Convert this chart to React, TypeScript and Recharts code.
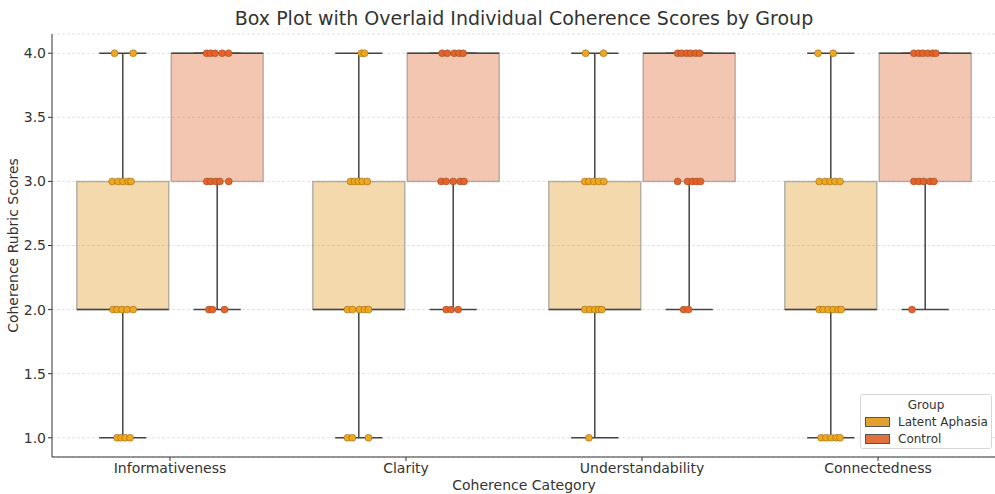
import React from 'react';
import {
  ComposedChart,
  XAxis,
  YAxis,
  CartesianGrid,
  Scatter,
  ReferenceArea,
  ReferenceLine,
} from 'recharts';

// ---------- data ----------
const categories = ['Informativeness', 'Clarity', 'Understandability', 'Connectedness'];
const yTicks = [1.0, 1.5, 2.0, 2.5, 3.0, 3.5, 4.0];
const groups = ['Latent Aphasia', 'Control'];

// box statistics per category
const laLow = [1, 1, 1, 1];
const laQ1 = [2, 2, 2, 2];
const laMedian = [2, 2, 2, 2];
const laQ3 = [3, 3, 3, 3];
const laHigh = [4, 4, 4, 4];

const ctLow = [2, 2, 2, 2];
const ctQ1 = [3, 3, 3, 3];
const ctMedian = [4, 4, 4, 4];
const ctQ3 = [4, 4, 4, 4];
const ctHigh = [4, 4, 4, 4];

// individual scores: [category index, score, jittered x offset]
const laPoints: [number, number, number][] = [
  [0, 4, -0.235], [0, 4, -0.156],
  [0, 3, -0.245], [0, 3, -0.22], [0, 3, -0.199], [0, 3, -0.177], [0, 3, -0.165],
  [0, 2, -0.241], [0, 2, -0.224], [0, 2, -0.203], [0, 2, -0.182], [0, 2, -0.156],
  [0, 1, -0.224], [0, 1, -0.207], [0, 1, -0.19], [0, 1, -0.169],
  [1, 4, -0.189], [1, 4, -0.176],
  [1, 3, -0.235], [1, 3, -0.218], [1, 3, -0.202], [1, 3, -0.185], [1, 3, -0.164],
  [1, 2, -0.248], [1, 2, -0.227], [1, 2, -0.197], [1, 2, -0.176], [1, 2, -0.159],
  [1, 1, -0.248], [1, 1, -0.227], [1, 1, -0.159],
  [2, 4, -0.239], [2, 4, -0.163],
  [2, 3, -0.242], [2, 3, -0.225], [2, 3, -0.204], [2, 3, -0.183], [2, 3, -0.162],
  [2, 2, -0.242], [2, 2, -0.221], [2, 2, -0.2], [2, 2, -0.183], [2, 2, -0.17],
  [2, 1, -0.225],
  [3, 4, -0.254], [3, 4, -0.19],
  [3, 3, -0.249], [3, 3, -0.224], [3, 3, -0.203], [3, 3, -0.182], [3, 3, -0.161],
  [3, 2, -0.249], [3, 2, -0.232], [3, 2, -0.211], [3, 2, -0.19], [3, 2, -0.169], [3, 2, -0.156],
  [3, 1, -0.241], [3, 1, -0.22], [3, 1, -0.199], [3, 1, -0.177], [3, 1, -0.161],
];

const ctPoints: [number, number, number][] = [
  [0, 4, 0.155], [0, 4, 0.172], [0, 4, 0.191], [0, 4, 0.221], [0, 4, 0.248],
  [0, 3, 0.156], [0, 3, 0.173], [0, 3, 0.194], [0, 3, 0.211], [0, 3, 0.249],
  [0, 2, 0.165], [0, 2, 0.18], [0, 2, 0.231],
  [1, 4, 0.153], [1, 4, 0.175], [1, 4, 0.204], [1, 4, 0.225], [1, 4, 0.242],
  [1, 3, 0.149], [1, 3, 0.17], [1, 3, 0.2], [1, 3, 0.229], [1, 3, 0.246],
  [1, 2, 0.17], [1, 2, 0.191], [1, 2, 0.221],
  [2, 4, 0.151], [2, 4, 0.168], [2, 4, 0.189], [2, 4, 0.206], [2, 4, 0.227], [2, 4, 0.244],
  [2, 3, 0.151], [2, 3, 0.193], [2, 3, 0.214], [2, 3, 0.231], [2, 3, 0.248],
  [2, 2, 0.176], [2, 2, 0.197],
  [3, 4, 0.152], [3, 4, 0.173], [3, 4, 0.19], [3, 4, 0.211], [3, 4, 0.232], [3, 4, 0.245],
  [3, 3, 0.152], [3, 3, 0.173], [3, 3, 0.194], [3, 3, 0.22], [3, 3, 0.237],
  [3, 2, 0.144],
];

// ---------- style ----------
const LA_COLOR = '#e0a12e';
const CT_COLOR = '#e0703c';
const LA_POINT = '#f0a81a';
const CT_POINT = '#e8612b';
const GROUP_OFFSET = 0.2;
const BOX_HALF = 0.195;
const CAP_HALF = 0.1;
const WHISKER = '#444444';
const FONT = 'DejaVu Sans, sans-serif';

const laData = laPoints.map(([c, s, j]) => ({ x: c + j, y: s }));
const ctData = ctPoints.map(([c, s, j]) => ({ x: c + j, y: s }));

const dot = (fill: string) => (props: any) => (
  <circle cx={props.cx} cy={props.cy} r={3.5} fill={fill} stroke="#6b4a20" strokeWidth={0.5} strokeOpacity={0.8} />
);

function boxElements(
  prefix: string,
  offset: number,
  low: number[],
  q1: number[],
  med: number[],
  q3: number[],
  high: number[],
  color: string
) {
  const els: React.ReactNode[] = [];
  categories.forEach((_, i) => {
    const c = i + offset;
    els.push(
      <ReferenceArea
        key={`${prefix}-box-${i}`}
        x1={c - BOX_HALF}
        x2={c + BOX_HALF}
        y1={q1[i]}
        y2={q3[i]}
        fill={color}
        fillOpacity={0.4}
        stroke="#8a8a8a"
        strokeOpacity={0.6}
        strokeWidth={1.5}
        ifOverflow="visible"
      />
    );
  });
  categories.forEach((_, i) => {
    const c = i + offset;
    if (high[i] > q3[i]) {
      els.push(
        <ReferenceLine key={`${prefix}-wh-${i}`} segment={[{ x: c, y: q3[i] }, { x: c, y: high[i] }]} stroke={WHISKER} strokeWidth={1.5} ifOverflow="visible" />
      );
    }
    if (low[i] < q1[i]) {
      els.push(
        <ReferenceLine key={`${prefix}-wl-${i}`} segment={[{ x: c, y: q1[i] }, { x: c, y: low[i] }]} stroke={WHISKER} strokeWidth={1.5} ifOverflow="visible" />
      );
    }
    els.push(
      <ReferenceLine key={`${prefix}-ch-${i}`} segment={[{ x: c - CAP_HALF, y: high[i] }, { x: c + CAP_HALF, y: high[i] }]} stroke={WHISKER} strokeWidth={1.5} ifOverflow="visible" />
    );
    els.push(
      <ReferenceLine key={`${prefix}-cl-${i}`} segment={[{ x: c - CAP_HALF, y: low[i] }, { x: c + CAP_HALF, y: low[i] }]} stroke={WHISKER} strokeWidth={1.5} ifOverflow="visible" />
    );
    els.push(
      <ReferenceLine key={`${prefix}-md-${i}`} segment={[{ x: c - BOX_HALF, y: med[i] }, { x: c + BOX_HALF, y: med[i] }]} stroke={WHISKER} strokeWidth={1.5} ifOverflow="visible" />
    );
  });
  return els;
}

const LegendBox = () => (
  <div
    style={{
      position: 'absolute',
      left: 860,
      top: 394,
      border: '1px solid #d6d6d6',
      borderRadius: 3,
      background: 'rgba(255,255,255,0.85)',
      width: 132,
      height: 55,
      boxSizing: 'border-box',
      fontFamily: FONT,
      fontSize: 12,
      color: '#333',
    }}
  >
    <div style={{ position: 'absolute', top: 3, left: 0, width: '100%', textAlign: 'center', boxSizing: 'border-box' }}>Group</div>
    {groups.map((g, k) => (
      <div key={g} style={{ position: 'absolute', left: 4, top: 20 + k * 17, display: 'flex', alignItems: 'center', whiteSpace: 'nowrap' }}>
        <span style={{ display: 'inline-block', width: 23, height: 8, background: k === 0 ? LA_COLOR : CT_COLOR, border: '1px solid #555' }} />
        <span style={{ marginLeft: 8 }}>{g}</span>
      </div>
    ))}
  </div>
);

export default function App() {
  return (
    <div style={{ position: 'absolute', left: 0, top: 0, width: 995, height: 494, overflow: 'hidden', background: '#fff' }}>
      <div
        style={{
          position: 'absolute',
          top: 7,
          left: 0,
          width: 1048,
          textAlign: 'center',
          fontFamily: FONT,
          fontSize: 19,
          color: '#333',
        }}
      >
        Box Plot with Overlaid Individual Coherence Scores by Group
      </div>
      <ComposedChart
        width={998}
        height={494}
        margin={{ top: 34, right: 2, bottom: 7, left: 0 }}
        style={{ position: 'absolute', left: 0, top: 0 }}
      >
        <CartesianGrid vertical={false} stroke="#d9d9d9" strokeDasharray="3 2" strokeWidth={0.8} />
        <XAxis
          type="number"
          dataKey="x"
          domain={[-0.5, 3.5]}
          ticks={[0, 1, 2, 3]}
          tickFormatter={(v: number) => categories[v] ?? ''}
          allowDataOverflow
          height={30}
          tickSize={4}
          stroke="#333"
          tick={{ fill: '#333', fontSize: 14, fontFamily: FONT }}
          axisLine={{ stroke: '#333', strokeWidth: 1 }}
          label={{
            content: (p: any) => (
              <text x={p.viewBox.x + p.viewBox.width / 2} y={490} textAnchor="middle" fontSize={14} fontFamily={FONT} fill="#333">
                Coherence Category
              </text>
            ),
          }}
        />
        <YAxis
          type="number"
          dataKey="y"
          domain={[0.85, 4.15]}
          ticks={yTicks}
          tickFormatter={(v: number) => v.toFixed(1)}
          allowDataOverflow
          width={52}
          tickSize={4}
          stroke="#333"
          tick={{ fill: '#333', fontSize: 14, fontFamily: FONT }}
          axisLine={{ stroke: '#333', strokeWidth: 1 }}
          label={{
            content: (p: any) => {
              const cy = p.viewBox.y + p.viewBox.height / 2;
              return (
                <text x={18} y={cy} transform={`rotate(-90 18 ${cy})`} textAnchor="middle" fontSize={14} fontFamily={FONT} fill="#333">
                  Coherence Rubric Scores
                </text>
              );
            },
          }}
        />
        {boxElements('la', -GROUP_OFFSET, laLow, laQ1, laMedian, laQ3, laHigh, LA_COLOR)}
        {boxElements('ct', GROUP_OFFSET, ctLow, ctQ1, ctMedian, ctQ3, ctHigh, CT_COLOR)}
        <Scatter name="Latent Aphasia" data={laData} isAnimationActive={false} shape={dot(LA_POINT)} />
        <Scatter name="Control" data={ctData} isAnimationActive={false} shape={dot(CT_POINT)} />
      </ComposedChart>
      <LegendBox />
    </div>
  );
}
